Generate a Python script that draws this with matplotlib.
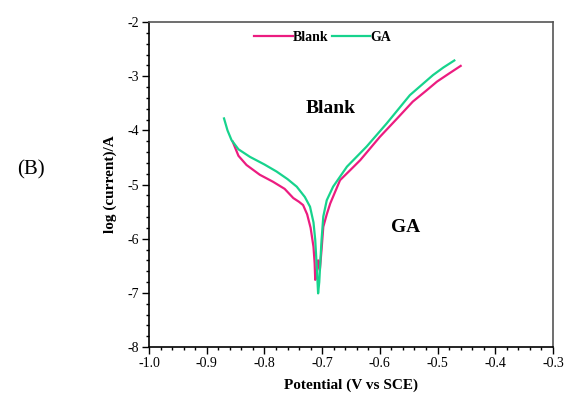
import matplotlib
matplotlib.use("Agg")
import matplotlib.pyplot as plt
from matplotlib.ticker import MultipleLocator

plt.rcParams["axes.unicode_minus"] = False

blank_x = [-0.855, -0.845, -0.831, -0.808, -0.785, -0.765, -0.750, -0.740, -0.733, -0.726, -0.720, -0.715,
           -0.713, -0.712, -0.710, -0.707, -0.704, -0.701, -0.698, -0.692, -0.686, -0.669, -0.650, -0.634,
           -0.600, -0.570, -0.543, -0.520, -0.501, -0.480, -0.460]
blank_y = [-4.21, -4.47, -4.64, -4.82, -4.95, -5.08, -5.25, -5.32, -5.38, -5.55, -5.80, -6.15,
           -6.45, -6.76, -6.70, -6.40, -6.58, -6.20, -5.78, -5.55, -5.35, -4.92, -4.72, -4.55,
           -4.12, -3.78, -3.47, -3.27, -3.10, -2.95, -2.81]

ga_x = [-0.870, -0.864, -0.857, -0.845, -0.825, -0.800, -0.779, -0.760, -0.744, -0.730, -0.721, -0.715,
        -0.712, -0.709, -0.707, -0.705, -0.703, -0.701, -0.698, -0.692, -0.681, -0.657, -0.623,
        -0.588, -0.548, -0.508, -0.490, -0.471]
ga_y = [-3.78, -4.00, -4.18, -4.35, -4.49, -4.63, -4.76, -4.90, -5.04, -5.23, -5.41, -5.70,
        -6.02, -6.58, -7.01, -6.80, -6.40, -6.02, -5.59, -5.29, -5.04, -4.67, -4.30,
        -3.87, -3.35, -2.98, -2.84, -2.71]

pink = "#EC1C80"
green = "#17D38D"
serif = ["Liberation Serif", "DejaVu Serif"]

fig = plt.figure(figsize=(5.65, 3.96), dpi=100)
ax = fig.add_axes([0.2637, 0.1237, 0.7151, 0.8207])

ax.plot(blank_x, blank_y, color=pink, lw=1.6, label="Blank")
ax.plot(ga_x, ga_y, color=green, lw=1.6, label="GA")

ax.set_xlim(-1.0, -0.3)
ax.set_ylim(-8, -2)
ax.xaxis.set_major_locator(MultipleLocator(0.1))
ax.xaxis.set_minor_locator(MultipleLocator(0.02))
ax.yaxis.set_major_locator(MultipleLocator(1))
ax.yaxis.set_minor_locator(MultipleLocator(0.2))
ax.set_xticklabels([f"{v:.1f}" for v in ax.get_xticks()])
ax.tick_params(which="major", direction="out", length=5, width=1, labelsize=10, pad=2)
ax.tick_params(which="minor", direction="out", length=2.5, width=1)
for lab in ax.get_xticklabels() + ax.get_yticklabels():
    lab.set_family(serif)

for s in ["top", "right"]:
    ax.spines[s].set_color("#555555")
    ax.spines[s].set_linewidth(1.2)
for s in ["left", "bottom"]:
    ax.spines[s].set_linewidth(1.2)

ax.set_xlabel("Potential (V vs SCE)", fontsize=11, fontweight="bold", family=serif, labelpad=6)
ax.set_ylabel("log (current)/A", fontsize=11, fontweight="bold", family=serif, labelpad=8)

leg = ax.legend(loc="upper center", bbox_to_anchor=(0.43, 1.01), ncol=2, frameon=False,
                handlelength=2.8, handletextpad=0.0, columnspacing=0.2,
                prop={"family": serif, "weight": "bold", "size": 10})

ax.text(-0.686, -3.59, "Blank", fontsize=14, fontweight="bold", family=serif, ha="center", va="center")
ax.text(-0.556, -5.80, "GA", fontsize=14, fontweight="bold", family=serif, ha="center", va="center")
fig.text(0.055, 0.57, "(B)", fontsize=15, family=serif, ha="center", va="center")

fig.savefig("out.png", dpi=100)
